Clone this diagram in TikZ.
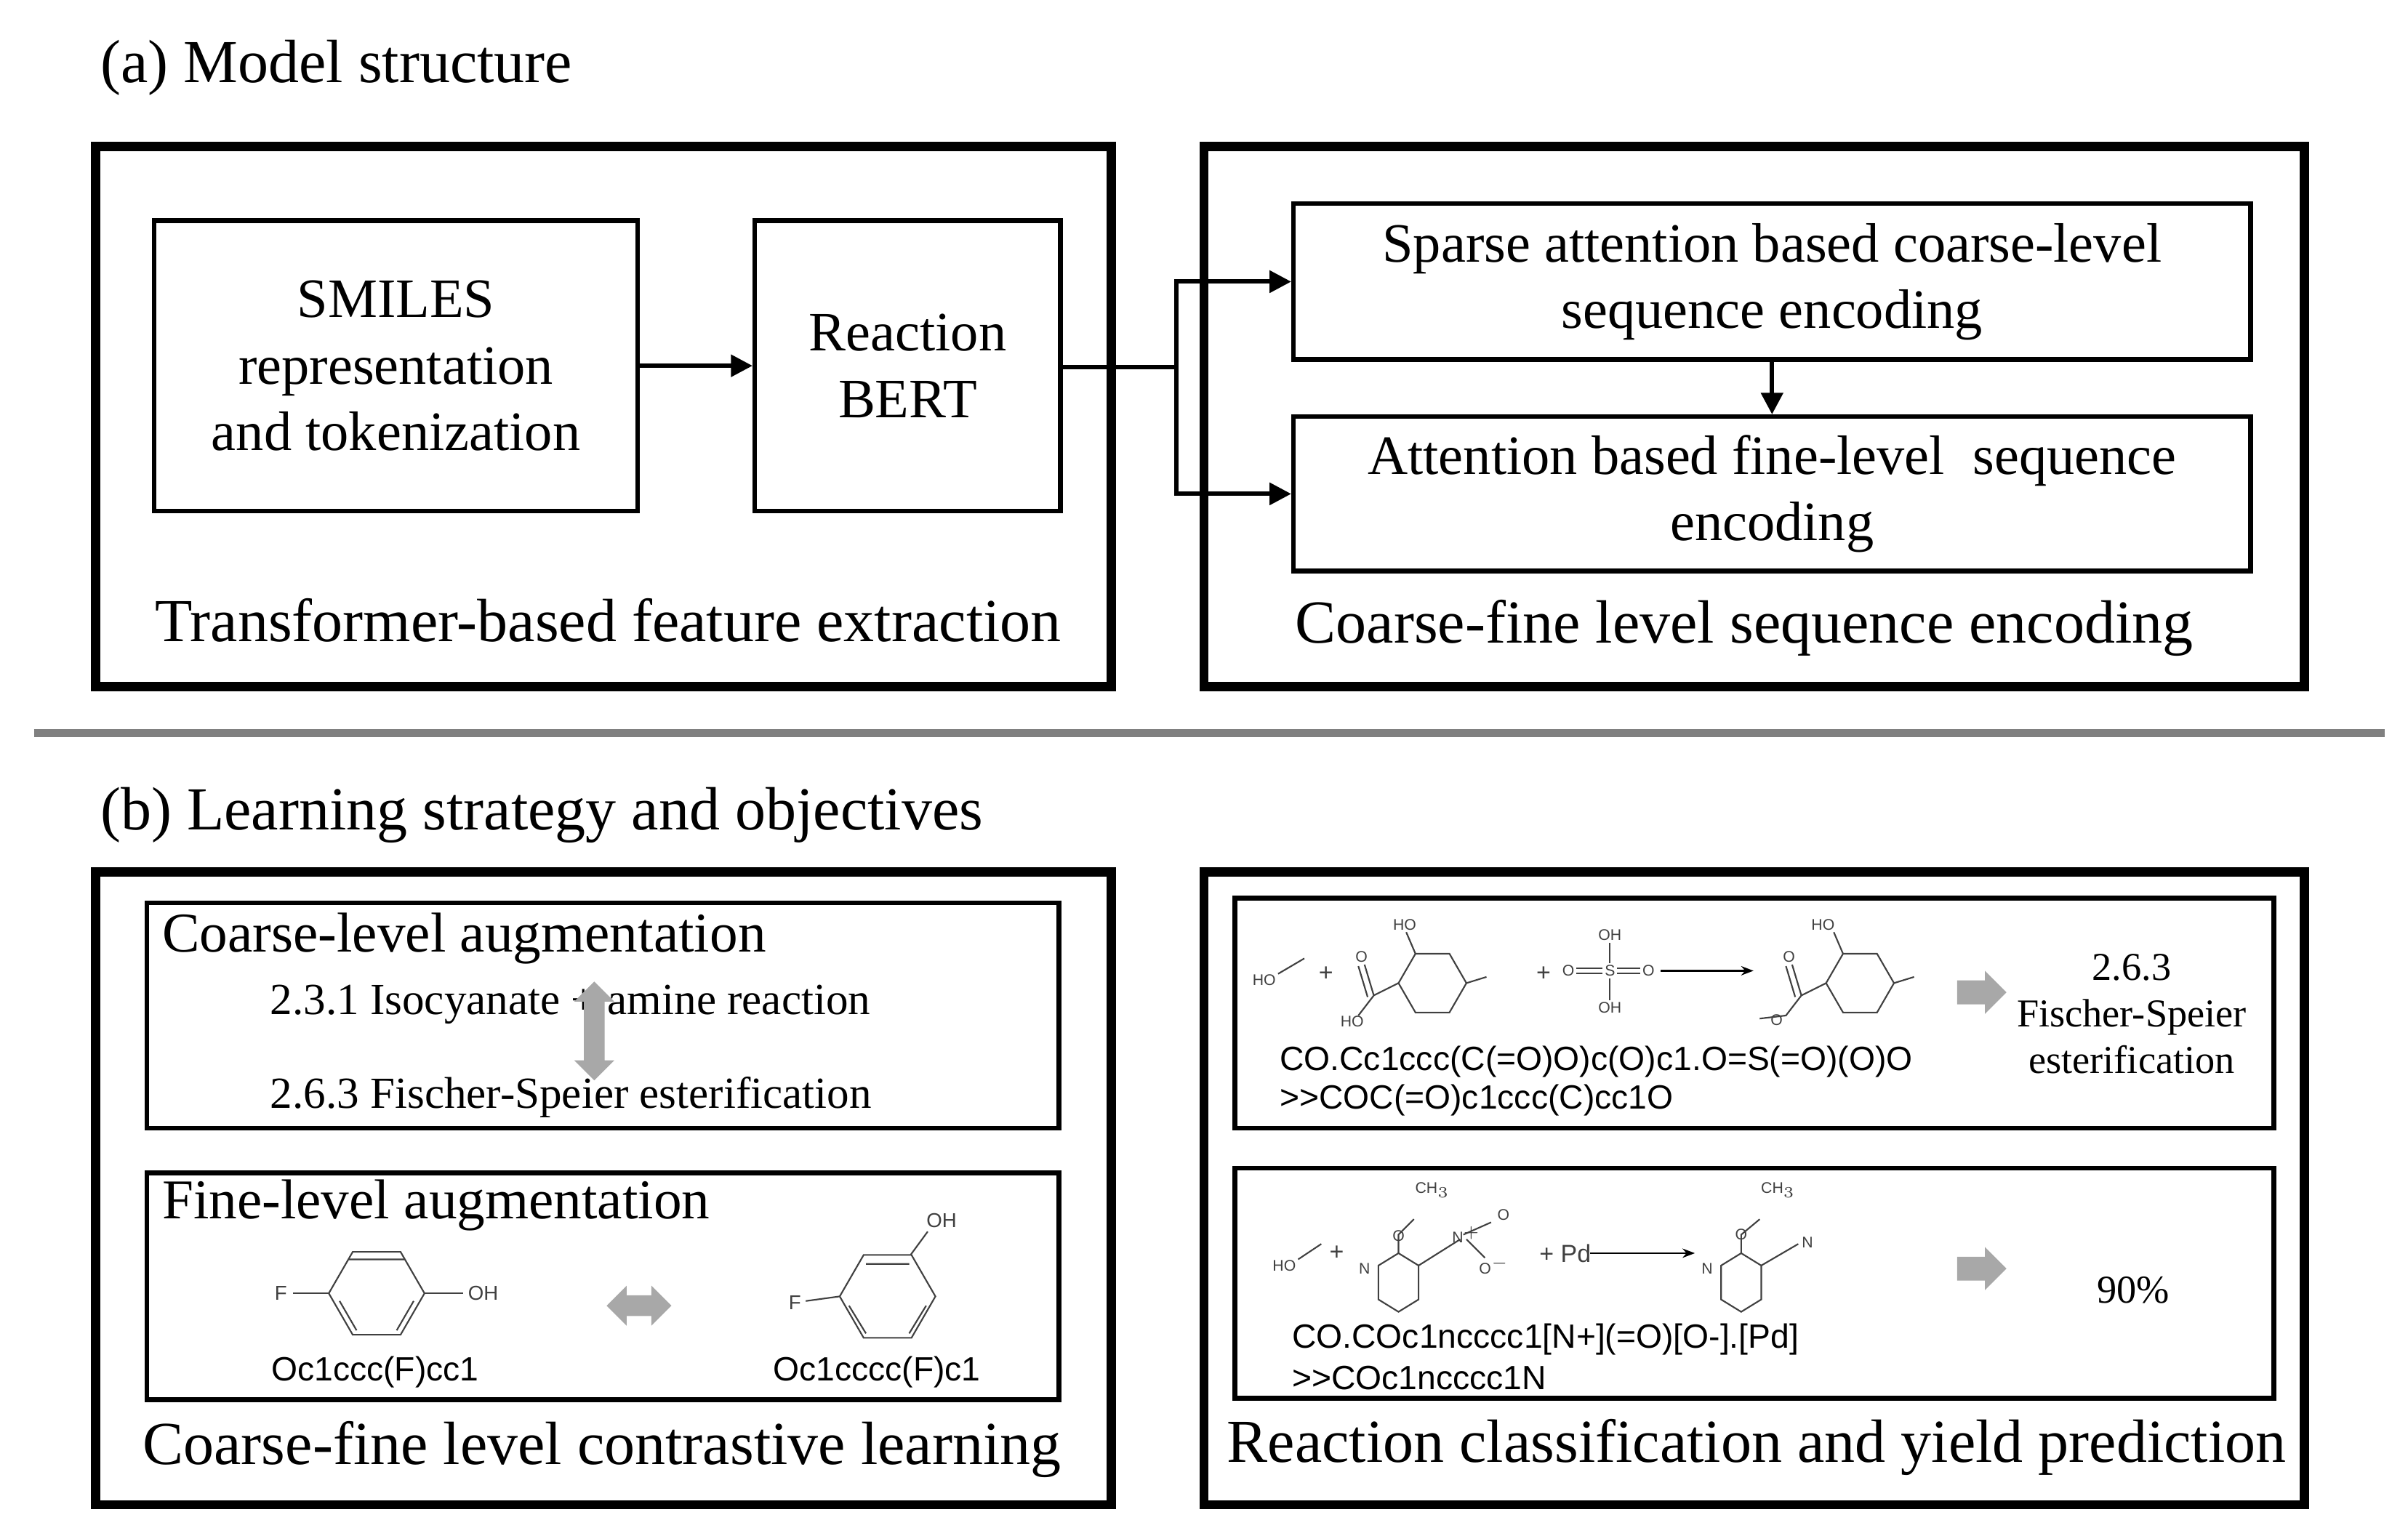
\documentclass[tikz,border=0pt]{standalone}
\usepackage{fontspec}
\setmainfont{Liberation Serif}
\newfontfamily\sans{Liberation Sans}
\usetikzlibrary{shapes.arrows,arrows.meta}
\definecolor{mgray}{gray}{0.5}
\definecolor{agray}{gray}{0.66}
\tikzset{
 big/.style={draw,line width=3pt},
 inner/.style={draw,line width=1.5pt,align=center,font=\fontsize{18}{21.5}\selectfont},
 conn/.style={line width=1.4pt,-{Triangle[length=7pt,width=7pt]}},
 title/.style={anchor=west,font=\fontsize{19.8}{22}\selectfont},
 capt/.style={font=\fontsize{19.8}{22}\selectfont},
 smi/.style={anchor=west,font=\sans\fontsize{10.9}{12.5}\selectfont},
 mol/.style={line width=0.5pt,draw=black!75},
 lab/.style={font=\sans\fontsize{5}{6}\selectfont,text=black!75,inner sep=0.5pt},
 bigarrow/.style={single arrow,fill=agray,draw=none,minimum height=16pt,minimum width=14pt,single arrow head extend=3pt,inner sep=3.5pt},
 dblarrow/.style={double arrow,fill=agray,draw=none,minimum width=13pt,double arrow head extend=3pt,inner sep=3pt},
}
\newcommand{\hexr}[3]{\draw[mol] (#1,#2) +(0:#3) -- +(60:#3) -- +(120:#3) -- +(180:#3) -- +(240:#3) -- +(300:#3) -- cycle;}
\begin{document}
\begin{tikzpicture}[x=0.5pt,y=-0.5pt]
\useasboundingbox (0,0) rectangle (1560,995);
% (a)
\node[title] (ta) at (58,44) {(a) Model structure};
\draw[big] (62,95) rectangle (720,445);
\draw[big] (780,95) rectangle (1493,445);
\node[inner,minimum width=156.5pt,minimum height=94pt] (smiles) at (256.5,237) {SMILES\\representation\\and tokenization};
\node[inner,minimum width=99pt,minimum height=94pt] (bert) at (588,237) {Reaction\\BERT};
\node[inner,minimum width=310pt,minimum height=50.5pt] (sparse) at (1148,182.5) {Sparse attention based coarse-level\\sequence encoding};
\node[inner,minimum width=310pt,minimum height=50pt] (fine) at (1148,320) {Attention based fine-level\ \ sequence\\encoding};
\draw[conn] (smiles) -- (bert);
\coordinate (j1) at (762,238);
\draw[line width=1.4pt] (bert.east |- j1) -- (j1);
\draw[conn] (j1) |- (sparse.west);
\draw[conn] (j1) |- (fine.west);
\draw[conn] (sparse) -- (fine);
\node[capt] (l1) at (394,402) {Transformer-based feature extraction};
\node[capt] (l2) at (1130,407) {Coarse-fine level sequence encoding};
% separator
\draw[mgray,line width=2.5pt] (22,475) -- (1545,475);
% (b)
\node[title] (tb) at (58,528) {(b) Learning strategy and objectives};
\draw[big] (62,565) rectangle (720,975);
\draw[big] (780,565) rectangle (1493,975);
\draw[line width=1.5pt] (95,585) rectangle (686,731);
\node[anchor=west,font=\fontsize{18.2}{20}\selectfont] (cla) at (98,608) {Coarse-level augmentation};
\node[anchor=west,font=\fontsize{14.4}{16}\selectfont] (r1) at (168,651) {2.3.1 Isocyanate + amine reaction};
\node[anchor=west,font=\fontsize{14.4}{16}\selectfont] (r2) at (168,711) {2.6.3 Fischer-Speier esterification};
\node[dblarrow,rotate=90,minimum height=32pt] (da1) at (385,668) {};
\draw[line width=1.5pt] (95,760) rectangle (686,907);
\node[anchor=west,font=\fontsize{18.2}{20}\selectfont] (fla) at (98,781) {Fine-level augmentation};
% molecule 1
\hexr{244}{838}{31}
\draw[mol] (226,816) -- (262,816) (220,843) -- (231,862) (268,843) -- (257,862);
\draw[mol] (213,838) -- (190,838) (275,838) -- (300,838);
\node[lab,font=\sans\fontsize{6.5}{7}\selectfont] (f1) at (182,838) {F};
\node[lab,font=\sans\fontsize{6.5}{7}\selectfont] (oh1) at (313,838) {OH};
% molecule 2
\hexr{575}{840}{31}
\draw[mol] (561,819) -- (589,819) (550,846) -- (561,864) (600,846) -- (589,864);
\draw[mol] (544,840) -- (522,843) (590,813) -- (601,798);
\node[lab,font=\sans\fontsize{6.5}{7}\selectfont] (f2) at (515,844) {F};
\node[lab,font=\sans\fontsize{6.5}{7}\selectfont] (oh2) at (610,791) {OH};
\node[dblarrow,minimum height=21pt] (da2) at (414,846) {};
\node[smi,anchor=center] (s1) at (243,889) {Oc1ccc(F)cc1};
\node[smi,anchor=center] (s2) at (568,889) {Oc1cccc(F)c1};
\node[capt] (l3) at (390,939) {Coarse-fine level contrastive learning};
% right panel
\draw[line width=1.5pt] (800,582) rectangle (1473,731);
\draw[line width=1.5pt] (800,757) rectangle (1473,906);
% reaction 1
\node[lab] (m1) at (819,635) {HO};
\draw[mol] (828,631) -- (845,621);
\node[lab,font=\sans\fontsize{8}{9}\selectfont] (p1) at (859,631) {+};
\hexr{928}{637}{22}
\draw[mol] (906,637) -- (890,645) (890,645) -- (884,625) (886,646) -- (880,626) (890,645) -- (880,658) (917,618) -- (911,604) (950,637) -- (963,633);
\node[lab] (o1) at (882,620) {O};
\node[lab] (o2) at (876,662) {HO};
\node[lab] (o3) at (910,599) {HO};
\node[lab,font=\sans\fontsize{8}{9}\selectfont] (p2) at (1000,631) {+};
\node[lab] (sa) at (1043,629) {S};
\node[lab] (sb) at (1043,606) {OH};
\node[lab] (sc) at (1043,653) {OH};
\node[lab] (sd) at (1016,629) {O};
\node[lab] (se) at (1068,629) {O};
\draw[mol] (sa) -- (sb) (sa) -- (sc);
\draw[mol,double,double distance=1pt] (sa) -- (sd) (sa) -- (se);
\draw[line width=0.6pt,-{Stealth[length=4pt]}] (1076,629) -- (1136,629);
\hexr{1205}{637}{22}
\draw[mol] (1183,637) -- (1167,645) (1167,645) -- (1161,625) (1163,646) -- (1157,626) (1167,645) -- (1157,658) -- (1140,660) (1194,618) -- (1188,604) (1227,637) -- (1240,633);
\node[lab] (o4) at (1159,620) {O};
\node[lab] (o5) at (1151,661) {O};
\node[lab] (o6) at (1181,599) {HO};
\node[bigarrow] (ga1) at (1280,643) {};
\node[align=center,font=\fontsize{12.8}{15}\selectfont] (c1) at (1381,657) {2.6.3\\Fischer-Speier\\esterification};
\node[smi] (s3) at (822,688) {CO.Cc1ccc(C(=O)O)c(O)c1.O=S(=O)(O)O};
\node[smi] (s4) at (822,713) {>>COC(=O)c1ccc(C)cc1O};
% reaction 2
\node[lab] (m2) at (832,820) {HO};
\draw[mol] (841,816) -- (856,806);
\node[lab,font=\sans\fontsize{8}{9}\selectfont] (p3) at (866,812) {+};
\draw[mol] (893,820) -- (906,812) -- (919,820) -- (919,842) -- (906,850) -- (893,842) -- cycle;
\node[lab] (n1) at (884,822) {N};
\draw[mol] (906,812) -- (906,800) -- (916,790) (919,820) -- (946,803) (948,800) -- (966,792) (950,803) -- (962,815);
\node[lab] (o7) at (906,801) {O};
\node[lab] (ch1) at (928,771) {CH$_3$};
\node[lab] (np) at (950,800) {N$^+$};
\node[lab] (o8) at (974,787) {O};
\node[lab] (o9) at (968,820) {O$^-$};
\node[lab,font=\sans\fontsize{8}{9}\selectfont] (pd) at (1014,812) {+ Pd};
\draw[line width=0.6pt,-{Stealth[length=4pt]}] (1030,812) -- (1098,812);
\draw[mol] (1115,820) -- (1128,812) -- (1141,820) -- (1141,842) -- (1128,850) -- (1115,842) -- cycle;
\node[lab] (n2) at (1106,822) {N};
\draw[mol] (1128,812) -- (1128,800) -- (1140,790) (1141,820) -- (1165,806);
\node[lab] (o10) at (1128,800) {O};
\node[lab] (ch2) at (1152,771) {CH$_3$};
\node[lab] (n3) at (1171,805) {N};
\node[bigarrow] (ga2) at (1280,822) {};
\node[font=\fontsize{12.8}{15}\selectfont] (c2) at (1382,836) {90\%};
\node[smi] (s5) at (830,868) {CO.COc1ncccc1[N+](=O)[O-].[Pd]};
\node[smi] (s6) at (830,893) {>>COc1ncccc1N};
\node[capt] (l4) at (1138,938) {Reaction classification and yield prediction};
\end{tikzpicture}
\end{document}
